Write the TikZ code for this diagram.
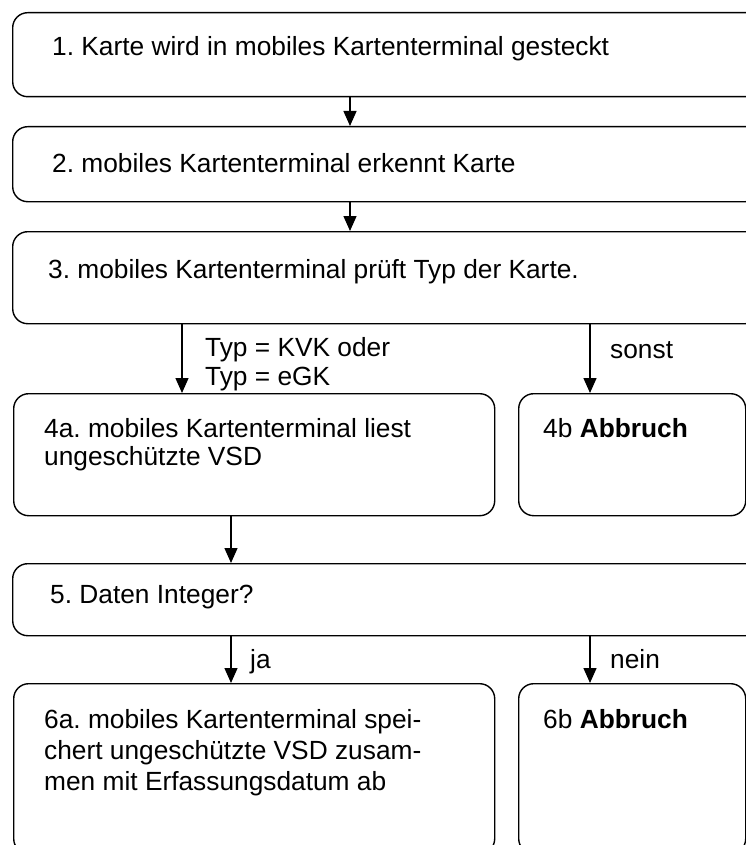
\documentclass[tikz,border=0pt]{standalone}
\usepackage{fontspec}
\setmainfont{Liberation Sans}
\usetikzlibrary{arrows.meta}
\frenchspacing
\begin{document}
\begin{tikzpicture}[x=1pt,y=-1pt,
  stepbox/.style={draw=black, line width=1.4pt, rounded corners=15pt,
    minimum width=#1, inner sep=0pt, anchor=north west},
  stepbox/.default=748pt,
  lbl/.style={inner sep=0pt, anchor=base west, font=\fontsize{26.3}{31}\selectfont},
  flow/.style={draw=black, line width=1.4pt, -{Triangle[length=15pt,width=13pt]}}]
  \useasboundingbox (0,0) rectangle (746,845);
  \fill[white] (0,0) rectangle (746,845);
  \clip (0,0) rectangle (746,845);

  % step boxes
  \node[stepbox, minimum height=84pt] (b1) at (12,12) {};
  \node[stepbox, minimum height=75pt] (b2) at (12,126) {};
  \node[stepbox, minimum height=92pt] (b3) at (12,231) {};
  \node[stepbox=481pt, minimum height=122pt] (b4a) at (13,393) {};
  \node[stepbox=227pt, minimum height=122pt] (b4b) at (518,393) {};
  \node[stepbox, minimum height=72pt] (b5) at (12,563) {};
  \node[stepbox=481pt, minimum height=170pt] (b6a) at (13,683) {};
  \node[stepbox=227pt, minimum height=170pt] (b6b) at (518,683) {};

  % texts
  \node[lbl] (t1) at (52,56) {1. Karte wird in mobiles Kartenterminal gesteckt};
  \node[lbl] (t2) at (52,173) {2. mobiles Kartenterminal erkennt Karte};
  \node[lbl] (t3) at (48,278) {3. mobiles Kartenterminal prüft Typ der Karte.};
  \node[lbl] (t4a1) at (44,437) {4a. mobiles Kartenterminal liest};
  \node[lbl] (t4a2) at (44,465) {ungeschützte VSD};
  \node[lbl] (t4b) at (543,437) {4b \textbf{Abbruch}};
  \node[lbl] (t5) at (50,603) {5. Daten Integer?};
  \node[lbl] (t6a1) at (44,728) {6a. mobiles Kartenterminal spei-};
  \node[lbl] (t6a2) at (44,759) {chert ungeschützte VSD zusam-};
  \node[lbl] (t6a3) at (44,790) {men mit Erfassungsdatum ab};
  \node[lbl] (t6b) at (543,728) {6b \textbf{Abbruch}};

  % connector columns
  \coordinate (cm) at (350,0);
  \coordinate (cl) at (182,0);
  \coordinate (cr) at (590,0);
  \coordinate (cj) at (231,0);

  \draw[flow] (b1.south -| cm) -- (b2.north -| cm);
  \draw[flow] (b2.south -| cm) -- (b3.north -| cm);
  \draw[flow] (b3.south -| cl) -- (b4a.north -| cl);
  \draw[flow] (b3.south -| cr) -- (b4b.north -| cr);
  \draw[flow] (b4a.south -| cj) -- (b5.north -| cj);
  \draw[flow] (b5.south -| cj) -- (b6a.north -| cj);
  \draw[flow] (b5.south -| cr) -- (b6b.north -| cr);

  % branch labels
  \node[lbl] (l1) at (205,356) {Typ = KVK oder};
  \node[lbl] (l2) at (205,385) {Typ = eGK};
  \node[lbl] (l3) at (610,358) {sonst};
  \node[lbl] (l4) at (250,668) {ja};
  \node[lbl] (l5) at (610,668) {nein};
\end{tikzpicture}
\end{document}
